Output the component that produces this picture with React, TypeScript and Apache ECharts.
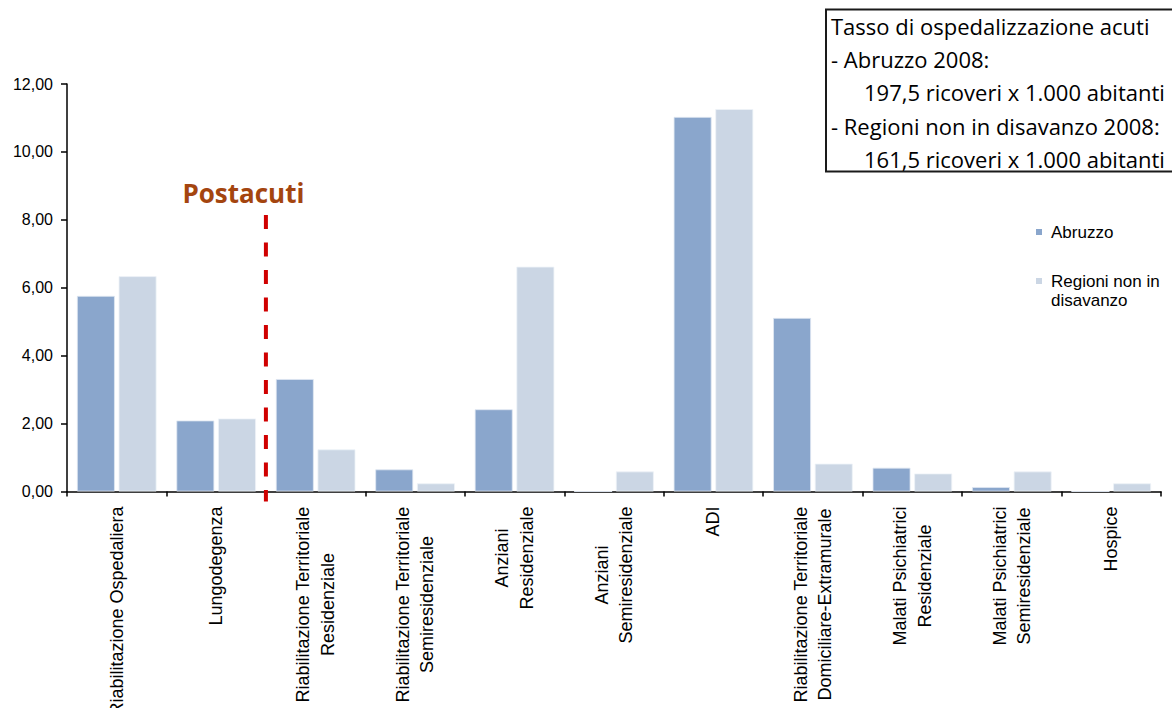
import React, { useEffect, useRef } from "react";
import * as echarts from "echarts";

// Setting categories (rotated labels, "\n" splits lines)
const categories = [
  "Riabilitazione Ospedaliera",
  "Lungodegenza",
  "Riabilitazione Territoriale\nResidenziale",
  "Riabilitazione Territoriale\nSemiresidenziale",
  "Anziani\nResidenziale",
  "Anziani\nSemiresidenziale",
  "ADI",
  "Riabilitazione Territoriale\nDomiciliare-Extramurale",
  "Malati Psichiatrici\nResidenziale",
  "Malati Psichiatrici\nSemiresidenziale",
  "Hospice",
];

// Rates per 1.000 inhabitants
const abruzzo = [5.76, 2.09, 3.31, 0.65, 2.42, 0, 11.03, 5.11, 0.7, 0.13, 0];
const regioniNonInDisavanzo = [6.34, 2.15, 1.24, 0.24, 6.62, 0.59, 11.26, 0.82, 0.53, 0.59, 0.24];

const seriesNames = ["Abruzzo", "Regioni non in disavanzo"];
const legendLabels = ["Abruzzo", "Regioni non in\ndisavanzo"];

// y axis scale
const yMin = 0;
const yMax = 12;
const yStep = 2;

// Note box text
const noteLines = [
  { text: "Tasso di ospedalizzazione acuti", indent: false },
  { text: "- Abruzzo 2008:", indent: false },
  { text: "197,5 ricoveri x 1.000 abitanti", indent: true },
  { text: "- Regioni non in disavanzo 2008:", indent: false },
  { text: "161,5 ricoveri x 1.000 abitanti", indent: true },
];

const sectionLabel = "Postacuti";
// the section divider sits between these two category indices
const sectionAfter = 1;

const COLORS = ["#8AA6CC", "#CBD6E4"];
const SANS = '"Liberation Sans", Arial, sans-serif';
const NOTE_FONT = '"Open Sans", sans-serif';

export default function App() {
  const ref = useRef<HTMLDivElement>(null);

  useEffect(() => {
    document.body.style.margin = "0";
    if (!ref.current) return;
    const chart = echarts.init(ref.current, undefined, { renderer: "svg" });

    chart.setOption({
      animation: false,
      backgroundColor: "#ffffff",
      grid: {
        left: 67,
        right: 11,
        top: 84,
        bottom: 216.5,
        containLabel: false,
        outerBoundsMode: "none",
      },
      xAxis: {
        type: "category",
        data: categories,
        boundaryGap: true,
        axisLine: { show: true, lineStyle: { color: "#000", width: 1.5 } },
        axisTick: { show: true, length: 5, alignWithLabel: false, lineStyle: { color: "#000", width: 1.5 } },
        axisLabel: {
          interval: 0,
          rotate: 90,
          margin: 15,
          hideOverlap: false,
          formatter: (v: string) =>
            v
              .split("\n")
              .map((l) => `{c|${l}}`)
              .join("\n"),
          rich: {
            c: {
              align: "center",
              fontSize: 18,
              lineHeight: 24.5,
              fontFamily: SANS,
              color: "#000",
            },
          },
        },
        splitLine: { show: false },
      },
      yAxis: {
        type: "value",
        min: yMin,
        max: yMax,
        interval: yStep,
        axisLine: { show: true, lineStyle: { color: "#000", width: 1.5 } },
        axisTick: { show: true, length: 6, lineStyle: { color: "#000", width: 1.5 } },
        splitLine: { show: false },
        axisLabel: {
          margin: 14,
          fontSize: 16,
          fontFamily: SANS,
          color: "#000",
          formatter: (v: number) => v.toFixed(2).replace(".", ","),
        },
      },
      series: [
        {
          name: seriesNames[0],
          type: "bar",
          data: abruzzo,
          barCategoryGap: "20%",
          barGap: "10%",
          itemStyle: { color: COLORS[0], borderColor: "#dfe7f1", borderWidth: 0.8 },
        },
        {
          name: seriesNames[1],
          type: "bar",
          data: regioniNonInDisavanzo,
          barCategoryGap: "20%",
          barGap: "10%",
          itemStyle: { color: COLORS[1], borderColor: "#eef2f7", borderWidth: 0.8 },
        },
      ],
    });

    // divider between the acute and post-acute settings
    const xa = chart.convertToPixel({ xAxisIndex: 0 }, sectionAfter) as number;
    const xb = chart.convertToPixel({ xAxisIndex: 0 }, sectionAfter + 1) as number;
    const divX = (xa + xb) / 2;
    const baseY = chart.convertToPixel({ yAxisIndex: 0 }, 0) as number;

    const noteX = 826;
    const noteTop = 9.5;

    chart.setOption({
      graphic: [
        {
          type: "line",
          shape: { x1: divX, y1: 215, x2: divX, y2: baseY + 10 },
          style: { stroke: "#D00000", lineWidth: 4, lineDash: [14, 13.5] },
          z: 10,
        },
        {
          type: "text",
          x: divX - 83.5,
          y: 193,
          style: {
            text: sectionLabel,
            fill: "#A4450F",
            font: `bold 26px ${NOTE_FONT}`,
            verticalAlign: "middle",
            align: "left",
          },
        },
        {
          type: "rect",
          shape: { x: noteX, y: noteTop, width: 400, height: 162 },
          style: { fill: "#fff", stroke: "#1a1a1a", lineWidth: 2 },
          z: 5,
        },
        ...noteLines.map((l, i) => ({
          type: "text",
          x: l.indent ? noteX + 38 : noteX + 5,
          y: 26 + i * 33.2,
          z: 6,
          style: {
            text: l.text,
            fill: "#000",
            font: `22px ${NOTE_FONT}`,
            verticalAlign: "middle",
            align: "left",
          },
        })),
        // legend
        ...legendLabels.flatMap((label, i) => {
          const cy = i === 0 ? 232 : 281;
          return [
            {
              type: "rect",
              shape: { x: 1036, y: cy - 3, width: 6, height: 6 },
              style: { fill: COLORS[i] },
            },
            {
              type: "text",
              x: 1051,
              y: cy - 9.5,
              style: {
                text: label,
                fill: "#000",
                font: `17px ${SANS}`,
                lineHeight: 19,
                verticalAlign: "top",
                align: "left",
              },
            },
          ];
        }),
      ],
    });

    return () => chart.dispose();
  }, []);

  return <div ref={ref} style={{ width: 1172, height: 708 }} />;
}
